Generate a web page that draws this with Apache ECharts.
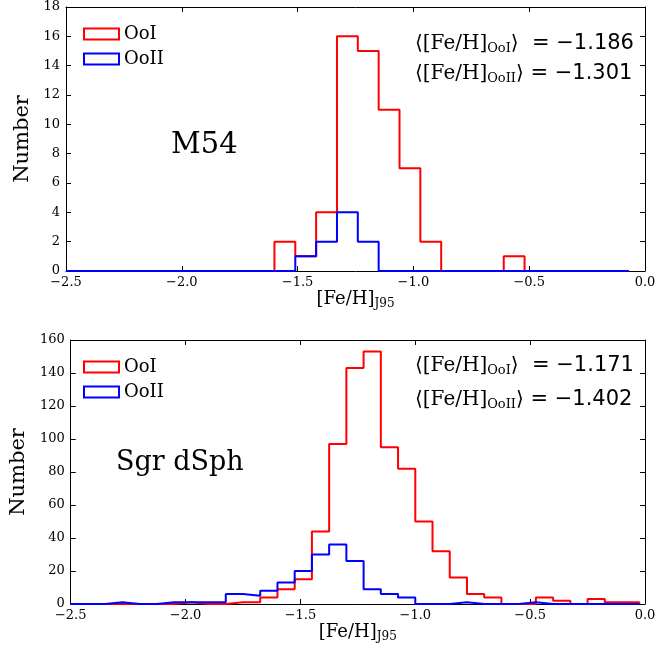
<!DOCTYPE html>
<html>
<head>
<meta charset="utf-8">
<script src="https://cdn.jsdelivr.net/npm/echarts@6/dist/echarts.min.js"></script>
<style>
html,body{margin:0;padding:0;background:#fff;}
#chart{width:659px;height:653px;}
</style>
</head>
<body>
<div id="chart"></div>
<script>
// ---- data ----
// M54 panel: 27 bins starting at -2.5, width 0.09
const m54BinStart = -2.5;
const m54BinWidth = 0.09;
const m54OoI  = [0,0,0,0,0,0,0,0,0,0, 2,1,4,16,15,11,7,2,0,0, 0,1,0,0,0,0,0];
const m54OoII = [0,0,0,0,0,0,0,0,0,0, 0,1,2,4,2,0,0,0,0,0, 0,0,0,0,0,0,0];
// Sgr dSph panel: 33 bins starting at -2.5, width 0.075
const sgrBinStart = -2.5;
const sgrBinWidth = 0.075;
const sgrOoI  = [0,0,0,0,0,0,1,0,0,1, 1,4,9,15,44,97,143,153,95,82, 50,32,16,6,4,0,0,4,2,0, 3,1,1];
const sgrOoII = [0,0,1,0,0,1,1,1,1,6, 5,8,13,20,30,36,26,9,6,4, 0,0,1,0,0,0,1,0,0,0, 0,0,0];
const seriesNames = ['OoI', 'OoII'];
const seriesColors = ['#ff0000', '#0000ff'];
const xTicks = [-2.5, -2.0, -1.5, -1.0, -0.5, 0.0];
const m54YMax = 18, m54YStep = 2;
const sgrYMax = 160, sgrYStep = 20;
const m54Means = ['−1.186', '−1.301'];
const sgrMeans = ['−1.171', '−1.402'];
const panelTitles = ['M54', 'Sgr dSph'];

function stepData(start, width, counts) {
  const pts = [[start, 0]];
  counts.forEach((c, i) => pts.push([+(start + i * width).toFixed(4), c]));
  pts.push([+(start + counts.length * width).toFixed(4), 0]);
  return pts;
}

const SERIF = 'DejaVu Serif';
const SANS = 'DejaVu Sans';
const grids = [
  {left: 66, top: 7, width: 579, height: 264},
  {left: 66, top: 340, width: 579, height: 264}
];
const fmtX = v => (v < 0 ? '−' : '') + Math.abs(v).toFixed(1);

function xAxes(gi) {
  const base = {
    gridIndex: gi, type: 'value', min: xTicks[0], max: xTicks[xTicks.length - 1], interval: 0.5,
    splitLine: {show: false},
    axisLine: {show: true, onZero: false, lineStyle: {color: '#000', width: 1}},
    axisTick: {show: true, inside: true, length: 5, lineStyle: {color: '#000', width: 1}}
  };
  return [
    Object.assign({}, base, {
      position: 'bottom',
      axisLabel: {show: true, formatter: fmtX, fontFamily: SERIF, fontSize: 13, color: '#000', margin: 5},
      name: '{a|[Fe/H]}{s|J95}', nameLocation: 'middle', nameGap: 17,
      nameTextStyle: {rich: {
        a: {fontFamily: SERIF, fontSize: 18, color: '#000'},
        s: {fontFamily: SERIF, fontSize: 12, color: '#000', padding: [10, 0, 0, 0]}
      }}
    }),
    Object.assign({}, base, {position: 'top', axisLabel: {show: false}})
  ];
}
function yAxes(gi, max, step) {
  const base = {
    gridIndex: gi, type: 'value', min: 0, max: max, interval: step,
    splitLine: {show: false},
    axisLine: {show: true, onZero: false, lineStyle: {color: '#000', width: 1}},
    axisTick: {show: true, inside: true, length: 5, lineStyle: {color: '#000', width: 1}}
  };
  return [
    Object.assign({}, base, {
      position: 'left',
      axisLabel: {show: true, fontFamily: SERIF, fontSize: 13, color: '#000', margin: 6},
      name: 'Number', nameLocation: 'middle', nameGap: 23, nameRotate: 90,
      nameTextStyle: {fontFamily: SERIF, fontSize: 21, color: '#000'}
    }),
    Object.assign({}, base, {position: 'right', axisLabel: {show: false}})
  ];
}

const series = [];
[[m54BinStart, m54BinWidth, [m54OoI, m54OoII], 0], [sgrBinStart, sgrBinWidth, [sgrOoI, sgrOoII], 1]].forEach(([st, w, sets, gi]) => {
  sets.forEach((counts, si) => {
    series.push({
      type: 'line', name: seriesNames[si], step: 'end',
      xAxisIndex: gi * 2, yAxisIndex: gi * 2,
      data: stepData(st, w, counts),
      showSymbol: false, symbol: 'none', animation: false,
      lineStyle: {color: seriesColors[si], width: 2},
      itemStyle: {color: seriesColors[si]},
      z: 2 + si
    });
  });
});

function legend(top) {
  return {
    orient: 'vertical', left: 83, top: top, padding: 0, itemWidth: 35, itemHeight: 11, itemGap: 7,
    icon: 'rect', selectedMode: false,
    textStyle: {fontFamily: SERIF, fontSize: 18, color: '#000'},
    data: seriesNames.map((n, i) => ({name: n, itemStyle: {color: 'rgba(255,255,255,0)', borderColor: seriesColors[i], borderWidth: 2}}))
  };
}

function meanText(y, sub, val, extra) {
  return {
    type: 'text', left: 415, top: y,
    style: {
      text: '{a|⟨[Fe/H]}{s|' + sub + '}{a|⟩}{b|' + extra + '= ' + val + '}',
      rich: {
        a: {fontFamily: SERIF, fontSize: 20, fill: '#000'},
        s: {fontFamily: SERIF, fontSize: 13, fill: '#000', padding: [10, 0, 0, 0]},
        b: {fontFamily: SANS, fontSize: 21, fill: '#000'}
      }
    }
  };
}

const graphic = [
  {type: 'text', left: 171, top: 131, style: {text: panelTitles[0], fontFamily: SERIF, fontSize: 29, fill: '#000'}},
  {type: 'text', left: 116, top: 449, style: {text: panelTitles[1], fontFamily: SERIF, fontSize: 27, fill: '#000'}},
  meanText(33, 'OoI', m54Means[0], '  '),
  meanText(63, 'OoII', m54Means[1], ' '),
  meanText(355, 'OoI', sgrMeans[0], '  '),
  meanText(389, 'OoII', sgrMeans[1], ' ')
];

const chart = echarts.init(document.getElementById('chart'), null, {renderer: 'canvas'});
chart.setOption({
  animation: false,
  backgroundColor: '#fff',
  grid: grids,
  xAxis: xAxes(0).concat(xAxes(1)),
  yAxis: yAxes(0, m54YMax, m54YStep).concat(yAxes(1, sgrYMax, sgrYStep)),
  legend: [legend(25), legend(358)],
  series: series,
  graphic: graphic
});
</script>
</body>
</html>
